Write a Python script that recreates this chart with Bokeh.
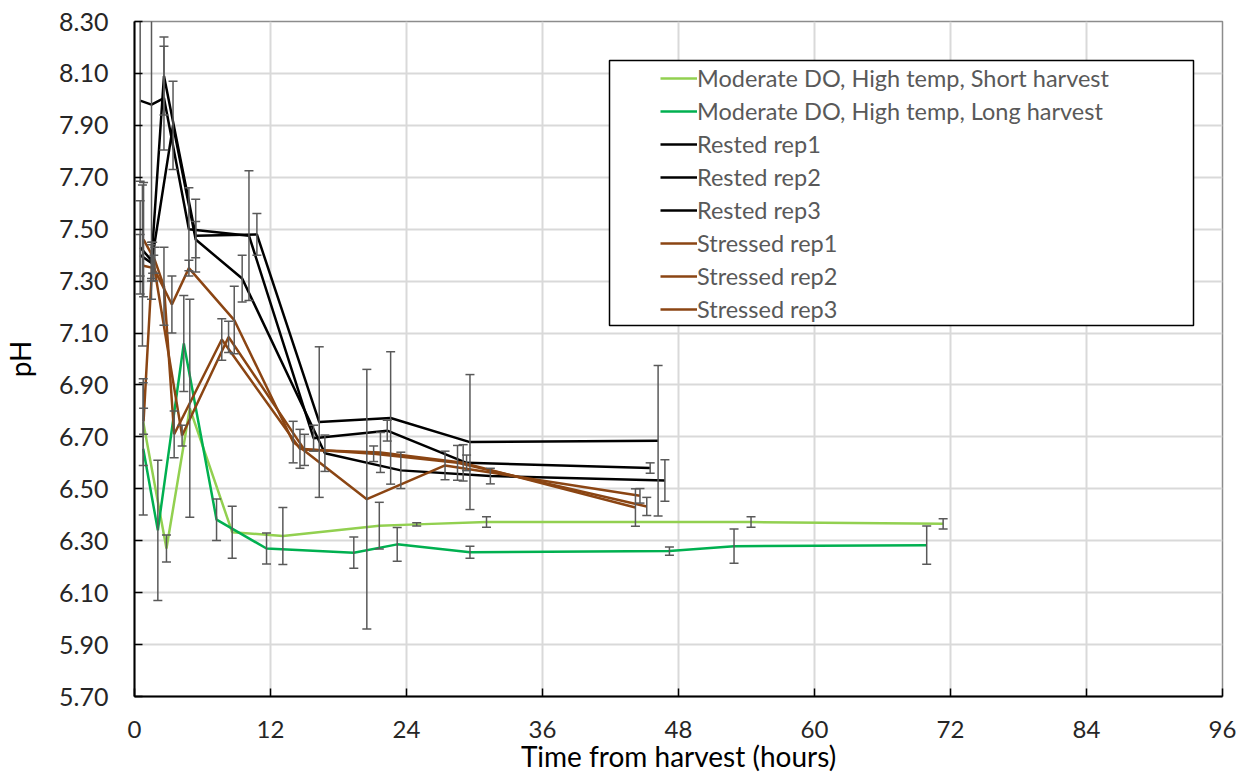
from bokeh.plotting import figure
from bokeh.models import (ColumnDataSource, Legend, LegendItem, BoxAnnotation,
                          FixedTicker, NumeralTickFormatter, Range1d)
from bokeh.embed import file_html
from bokeh.resources import INLINE

# ---------------- data ----------------
x_ticks = [0, 12, 24, 36, 48, 60, 72, 84, 96]
y_ticks = [5.70, 5.90, 6.10, 6.30, 6.50, 6.70, 6.90, 7.10, 7.30, 7.50, 7.70, 7.90, 8.10, 8.30]

short_label = "Moderate DO, High temp, Short harvest"
short_hours = [0.77, 2.82, 4.88, 8.62, 13.09, 21.6, 24.9, 31.06, 54.4, 71.35]
short_ph = [6.757, 6.27, 6.81, 6.333, 6.318, 6.358, 6.363, 6.372, 6.372, 6.365]
short_err = [0.167, 0.052, 0.42, 0.10, 0.11, 0.09, 0.006, 0.02, 0.02, 0.02]

long_label = "Moderate DO, High temp, Long harvest"
long_hours = [0.77, 2.06, 4.35, 7.24, 11.65, 19.35, 23.18, 29.6, 47.2, 52.9, 69.9]
long_ph = [6.654, 6.34, 7.06, 6.381, 6.27, 6.254, 6.286, 6.256, 6.26, 6.279, 6.283]
long_err = [0.255, 0.27, 0.185, 0.08, 0.06, 0.06, 0.065, 0.023, 0.016, 0.066, 0.074]

r1_hours = [0.5, 1.5, 2.6, 4.8, 10.1, 15.8, 22.3, 29.3, 45.5]
r1_ph = [7.995, 7.98, 8.005, 7.50, 7.475, 6.695, 6.724, 6.60, 6.58]
r1_err = [0.31, 0.75, 0.20, 0.16, 0.25, 0.05, 0.04, 0.03, 0.02]

r2_hours = [0.5, 1.5, 2.6, 5.4, 10.8, 16.3, 22.6, 29.6, 46.2]
r2_ph = [7.43, 7.38, 8.09, 7.475, 7.48, 6.757, 6.773, 6.68, 6.685]
r2_err = [0.18, 0.07, 0.15, 0.14, 0.08, 0.29, 0.255, 0.26, 0.29]

r3_hours = [0.5, 1.5, 3.4, 5.4, 9.5, 16.8, 23.5, 31.4, 46.8]
r3_ph = [7.40, 7.37, 7.90, 7.46, 7.31, 6.637, 6.571, 6.549, 6.532]
r3_err = [0.08, 0.07, 0.17, 0.07, 0.09, 0.07, 0.07, 0.03, 0.08]

s1_hours = [0.7, 1.7, 3.3, 4.8, 8.8, 14.0, 20.5, 27.4, 44.6]
s1_ph = [7.36, 7.35, 7.21, 7.35, 7.15, 6.68, 6.46, 6.59, 6.473]
s1_err = [0.31, 0.05, 0.11, 0.03, 0.13, 0.08, 0.50, 0.055, 0.028]

s2_hours = [0.8, 1.8, 2.6, 3.5, 7.7, 14.6, 21.1, 28.5, 45.2]
s2_ph = [7.46, 7.38, 7.28, 6.71, 7.075, 6.654, 6.635, 6.60, 6.432]
s2_err = [0.22, 0.05, 0.15, 0.09, 0.08, 0.075, 0.03, 0.067, 0.035]

s3_hours = [0.8, 1.6, 4.2, 8.3, 15.0, 21.7, 29.0, 44.2]
s3_ph = [6.76, 7.39, 6.705, 7.085, 6.65, 6.64, 6.60, 6.428]
s3_err = [0.05, 0.06, 0.04, 0.06, 0.06, 0.077, 0.07, 0.072]

series = [
    (short_label, short_hours, short_ph, short_err, "#92D050"),
    (long_label, long_hours, long_ph, long_err, "#00B050"),
    ("Rested rep1", r1_hours, r1_ph, r1_err, "#000000"),
    ("Rested rep2", r2_hours, r2_ph, r2_err, "#000000"),
    ("Rested rep3", r3_hours, r3_ph, r3_err, "#000000"),
    ("Stressed rep1", s1_hours, s1_ph, s1_err, "#8B4513"),
    ("Stressed rep2", s2_hours, s2_ph, s2_err, "#8B4513"),
    ("Stressed rep3", s3_hours, s3_ph, s3_err, "#8B4513"),
]

FONT = "Lato"

p = figure(width=1244, height=776, output_backend="svg", toolbar_location=None,
           x_range=Range1d(0, 96), y_range=Range1d(5.70, 8.30),
           min_border_left=134, min_border_right=22, min_border_top=21, min_border_bottom=80)
p.background_fill_color = "white"
p.border_fill_color = "white"
p.outline_line_color = "#8c8c8c"
p.outline_line_width = 1.5

p.xaxis.ticker = FixedTicker(ticks=x_ticks)
p.yaxis.ticker = FixedTicker(ticks=y_ticks)
p.yaxis.formatter = NumeralTickFormatter(format="0.00")
for ax in (p.xaxis, p.yaxis):
    ax.axis_line_color = "black"
    ax.axis_line_width = 2
    ax.major_tick_line_color = "black"
    ax.major_tick_line_width = 1.5
    ax.major_tick_in = 8
    ax.major_tick_out = 0
    ax.minor_tick_line_color = None
    ax.major_label_text_font = FONT
    ax.major_label_text_color = "#262626"
    ax.axis_label_text_font = FONT
    ax.axis_label_text_font_style = "normal"
    ax.axis_label_text_color = "black"
p.xaxis.major_label_text_font_size = "24px"
p.yaxis.major_label_text_font_size = "25px"
p.xaxis.major_label_standoff = 24
p.yaxis.major_label_standoff = 26

p.yaxis.axis_label = "pH"
p.yaxis.axis_label_text_font_size = "28px"
p.yaxis.axis_label_standoff = 19

p.xaxis.axis_label = "Time from harvest (hours)"
p.xaxis.axis_label_text_font_size = "28px"
p.xaxis.axis_label_text_line_height = 1.0
p.xaxis.axis_label_standoff = -2

p.xgrid.grid_line_color = "#d9d9d9"
p.ygrid.grid_line_color = "#d9d9d9"
p.xgrid.grid_line_width = 2
p.ygrid.grid_line_width = 2

items = []
for name, hrs, ph, err, col in series:
    src = ColumnDataSource(dict(x=hrs, y=ph))
    r = p.line("x", "y", source=src, line_color=col, line_width=2.5)
    items.append(LegendItem(label=name, renderers=[r]))

for name, hrs, ph, err, col in series:
    up = [v + e for v, e in zip(ph, err)]
    lo = [v - e for v, e in zip(ph, err)]
    esrc = ColumnDataSource(dict(x=hrs, up=up, lo=lo))
    p.segment(x0="x", y0="lo", x1="x", y1="up", source=esrc, line_color="#595959", line_width=1.5)
    p.scatter(x="x", y="up", source=esrc, marker="dash", size=9, line_color="#595959", line_width=1.5)
    p.scatter(x="x", y="lo", source=esrc, marker="dash", size=9, line_color="#595959", line_width=1.5)

box = BoxAnnotation(left=475, right=1059, top=636, bottom=371,
                    left_units="screen", right_units="screen", top_units="screen", bottom_units="screen",
                    fill_color="white", fill_alpha=1.0, line_color="black", line_alpha=1.0, line_width=1.5)
p.add_layout(box)

legend = Legend(items=items, location=(521, 368), orientation="vertical",
                border_line_alpha=0, background_fill_alpha=0,
                label_text_font=FONT, label_text_font_size="23.5px", label_text_color="#595959",
                glyph_width=37, glyph_height=24, label_height=24, spacing=5, padding=5,
                label_standoff=0, margin=0)
p.add_layout(legend, "center")

open("out.html", "w").write(file_html(p, INLINE))
